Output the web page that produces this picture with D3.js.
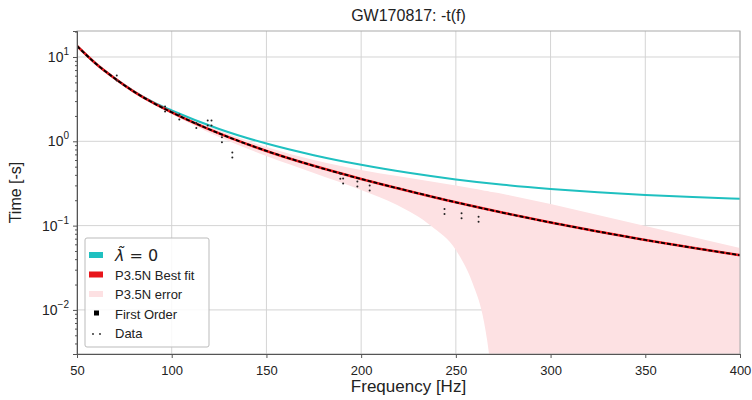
<!DOCTYPE html>
<html>
<head>
<meta charset="utf-8">
<script src="https://cdn.jsdelivr.net/npm/d3@7"></script>
<style>
    body { margin: 0; background: #fff; }
    text { font-family: "Liberation Sans", Arial, sans-serif; fill: #222; }
</style>
</head>
<body>
<div id="chart"></div>
<script>
//Datos
const curveFreq = [50, 60, 70, 80, 90, 100, 125, 150, 175, 200, 225, 250, 275, 300, 325, 350, 375, 400];
const lambdaZero = [13.5, 8.32, 5.58, 3.92, 2.93, 2.32, 1.40, 0.940, 0.684, 0.526, 0.423, 0.353, 0.305, 0.272, 0.248, 0.231, 0.218, 0.208];
const bestFit = [13.5, 8.32, 5.56, 3.89, 2.87, 2.208, 1.242, 0.769, 0.512, 0.358, 0.258, 0.189, 0.142, 0.1089, 0.0851, 0.0676, 0.0546, 0.0446];
const firstOrder = [13.5, 8.32, 5.56, 3.89, 2.87, 2.208, 1.242, 0.769, 0.512, 0.358, 0.258, 0.189, 0.142, 0.1089, 0.0851, 0.0676, 0.0546, 0.0446];

const bandFreq = [50, 70, 100, 125, 150, 175, 200, 219, 237, 250, 259, 264, 266.5, 268, 270, 275, 300, 325, 350, 375, 400];
const errorUpper = [13.7, 5.7, 2.28, 1.347, 0.856, 0.600, 0.4566, 0.3865, 0.3326, 0.299, 0.2748, 0.2622, 0.2566, 0.253, 0.2483, 0.237, 0.1804, 0.1335, 0.0989, 0.0732, 0.0542];
const errorLower = [13.3, 5.45, 2.108, 1.125, 0.669, 0.4207, 0.2644, 0.1755, 0.0989, 0.0514, 0.0203, 0.00894, 0.0044, 0.00241, 0.0008, 0.0003, 0.0001, 0.0001, 0.0001, 0.0001, 0.0001];

const dataFreq = [71, 96.5, 104, 113, 119, 121, 126.5, 132, 189, 190.5, 198, 204.5, 244, 253, 262];
const dataTime = [5.63, 2.41, 1.94, 1.54, 1.65, 1.65, 1.04, 0.69, 0.386, 0.338, 0.311, 0.28, 0.147, 0.131, 0.119];

const xTicks = [50, 100, 150, 200, 250, 300, 350, 400];
const yTicks = [10, 1, 0.1, 0.01];
const yTickExp = ['1', '0', '\u22121', '\u22122'];

//Colores
const COLOR_CYAN = '#1fc0c0';
const COLOR_RED = '#e8161b';
const COLOR_PINK = '#fde1e3';

let margin = {top: 31, right: 12, bottom: 46, left: 77},
    width = 752 - margin.left - margin.right,
    height = 400 - margin.top - margin.bottom;

let svg = d3.select('#chart')
    .append('svg')
        .attr('width', 752)
        .attr('height', 400)
    .append('g')
        .attr('transform', 'translate(' + margin.left + ',' + margin.top + ')');

let x = d3.scaleLinear().domain([50, 400]).range([0, width]);
let y = d3.scaleLog().domain([0.003, 20.34]).range([height, 0]);

svg.append('clipPath').attr('id', 'clip')
    .append('rect').attr('width', width).attr('height', height);

//Rejilla
svg.append('g').selectAll('line').data(xTicks).enter().append('line')
    .attr('x1', d => x(d)).attr('x2', d => x(d))
    .attr('y1', 0).attr('y2', height)
    .attr('stroke', '#d4d4d4').attr('stroke-width', 1);

svg.append('g').selectAll('line').data(yTicks).enter().append('line')
    .attr('x1', 0).attr('x2', width)
    .attr('y1', d => y(d)).attr('y2', d => y(d))
    .attr('stroke', '#d4d4d4').attr('stroke-width', 1);

let plot = svg.append('g').attr('clip-path', 'url(#clip)');

//Banda de error
let band = bandFreq.map((f, i) => ({f: f, lo: errorLower[i], hi: errorUpper[i]}));
plot.append('path')
    .datum(band)
    .attr('fill', COLOR_PINK)
    .attr('d', d3.area()
        .curve(d3.curveMonotoneX)
        .x(d => x(d.f))
        .y0(d => y(d.lo))
        .y1(d => y(d.hi)));

let line = d3.line().curve(d3.curveMonotoneX).x(d => x(d[0])).y(d => y(d[1]));

plot.append('path')
    .datum(curveFreq.map((f, i) => [f, lambdaZero[i]]))
    .attr('fill', 'none').attr('stroke', COLOR_CYAN).attr('stroke-width', 2)
    .attr('d', line);

plot.append('path')
    .datum(curveFreq.map((f, i) => [f, bestFit[i]]))
    .attr('fill', 'none').attr('stroke', COLOR_RED).attr('stroke-width', 2.6)
    .attr('d', line);

plot.append('path')
    .datum(curveFreq.map((f, i) => [f, firstOrder[i]]))
    .attr('fill', 'none').attr('stroke', '#000').attr('stroke-width', 1.8)
    .attr('stroke-dasharray', '4,2')
    .attr('d', line);

//Puntos de datos, dibujados como ':'
let dots = plot.append('g').selectAll('g')
    .data(dataFreq.map((f, i) => [f, dataTime[i]]))
    .enter().append('g')
    .attr('transform', d => 'translate(' + x(d[0]) + ',' + y(d[1]) + ')');
dots.append('circle').attr('cy', -2.5).attr('r', 1).attr('fill', '#222');
dots.append('circle').attr('cy', 2.5).attr('r', 1).attr('fill', '#222');

//Marco
svg.append('rect')
    .attr('width', width).attr('height', height)
    .attr('fill', 'none').attr('stroke', '#aaa').attr('stroke-width', 1);

//Ejes
let xAxis = svg.append('g')
    .attr('transform', 'translate(0,' + height + ')')
    .call(d3.axisBottom(x).tickValues(xTicks).tickSize(4).tickPadding(8));
xAxis.selectAll('text').attr('font-size', 13).style('font-family', '"Liberation Sans", Arial, sans-serif');

let minorTicks = [];
[0.001, 0.01, 0.1, 1, 10].forEach(function(dec) {
    for (let k = 2; k <= 9; k++) {
        let v = dec * k;
        if (v > 0.003 && v < 20.34) minorTicks.push(v);
    }
});

svg.append('g')
    .call(d3.axisLeft(y).tickValues(minorTicks).tickSize(2).tickFormat(''))
    .call(g => g.select('.domain').remove());

let yAxis = svg.append('g')
    .call(d3.axisLeft(y).tickValues(yTicks).tickSize(4).tickFormat(''));

svg.selectAll('.domain').attr('stroke', '#555');
svg.selectAll('.tick line').attr('stroke', '#555');

let yLabels = svg.append('g').selectAll('text').data(yTicks).enter().append('text')
    .attr('x', -8).attr('y', d => y(d) + 5)
    .attr('text-anchor', 'end')
    .attr('font-size', 14);
yLabels.append('tspan').text('10');
yLabels.append('tspan').attr('dy', -7).attr('font-size', 10).text((d, i) => yTickExp[i]);

//Títulos
svg.append('text')
    .attr('x', width / 2).attr('y', -10)
    .attr('text-anchor', 'middle').attr('font-size', 16)
    .text('GW170817: -t(f)');

svg.append('text')
    .attr('x', width / 2).attr('y', height + 38)
    .attr('text-anchor', 'middle').attr('font-size', 17)
    .text('Frequency [Hz]');

svg.append('text')
    .attr('transform', 'translate(' + (-56) + ',' + (height / 2) + ') rotate(-90)')
    .attr('text-anchor', 'middle').attr('font-size', 16)
    .text('Time [-s]');

//Leyenda
let legend = svg.append('g').attr('transform', 'translate(8,207)');
legend.append('rect')
    .attr('width', 124).attr('height', 109)
    .attr('fill', 'rgba(255,255,255,0.85)').attr('stroke', '#bbb').attr('rx', 2);

let items = [
    {type: 'patch', color: COLOR_CYAN, label: ''},
    {type: 'patch', color: COLOR_RED, label: 'P3.5N Best fit'},
    {type: 'patch', color: COLOR_PINK, label: 'P3.5N error'},
    {type: 'square', color: '#000', label: 'First Order'},
    {type: 'dots', color: '#222', label: 'Data'}
];

items.forEach(function(item, i) {
    let g = legend.append('g').attr('transform', 'translate(0,' + (17 + i * 19.5) + ')');
    if (item.type == 'patch') {
        g.append('rect').attr('x', 4).attr('y', -3).attr('width', 14).attr('height', 6).attr('fill', item.color);
    } else if (item.type == 'square') {
        g.append('rect').attr('x', 9).attr('y', -3).attr('width', 5).attr('height', 5).attr('fill', item.color);
    } else {
        g.append('circle').attr('cx', 8).attr('cy', 1).attr('r', 0.9).attr('fill', item.color);
        g.append('circle').attr('cx', 15).attr('cy', 1).attr('r', 0.9).attr('fill', item.color);
    }
    if (i == 0) {
        let t = g.append('text').attr('x', 30).attr('y', 6).attr('font-size', 16)
            .style('font-family', '"DejaVu Sans", sans-serif');
        t.append('tspan').attr('font-style', 'italic').text('\u03bb\u0303');
        t.append('tspan').text(' = 0');
    } else {
        g.append('text').attr('x', 30).attr('y', 5).attr('font-size', 13).text(item.label);
    }
});
</script>
</body>
</html>
